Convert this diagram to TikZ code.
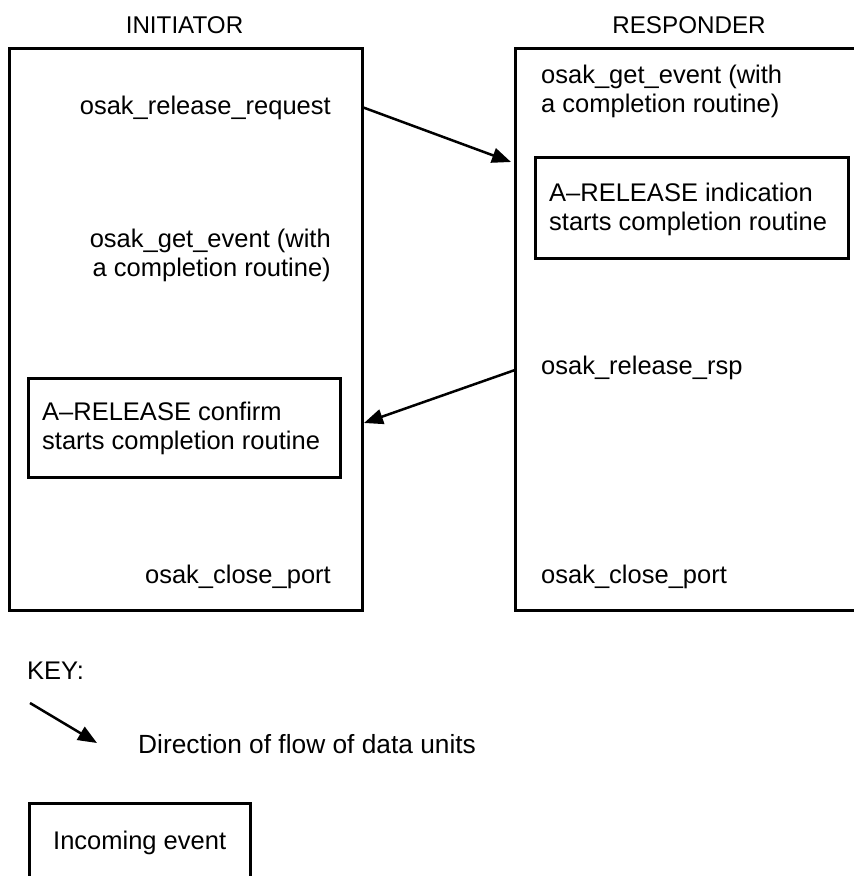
\documentclass[tikz,border=0pt]{standalone}
\usepackage{fontspec}
\setmainfont{Liberation Sans}
\usetikzlibrary{arrows.meta}
\tikzset{
  lbl/.style={inner sep=0pt, font=\fontsize{25.5}{29}\selectfont},
  head/.style={inner sep=0pt, font=\fontsize{24.2}{29}\selectfont},
  side/.style={draw=black, line width=3pt, inner sep=0pt},
  evbox/.style={draw=black, line width=3pt, inner sep=0pt},
  flow/.style={line width=2.5pt, -{Triangle[length=19pt,width=15pt]}},
}
\begin{document}
\begin{tikzpicture}[x=1pt,y=-1pt]
\useasboundingbox (0,0) rectangle (854,876);

% the two participants
\draw[side] (9,48) rectangle (362,610);
\draw[side] (515,48) rectangle (870,610);

% column headings
\node[head, anchor=base] (init) at (184.5,33) {INITIATOR};
\node[head, anchor=base] (resp) at (689,33) {RESPONDER};

% initiator calls (multi-line nodes are placed by the baseline of their last line)
\node[lbl, anchor=base east] (relreq) at (331,114) {osak\_release\_request};
\node[lbl, anchor=base east, align=right] (lget) at (331,276) {osak\_get\_event (with\\a completion routine)};
\node[lbl, anchor=base east] (lclose) at (331,583) {osak\_close\_port};

% responder calls
\node[lbl, anchor=base west, align=left] (rget) at (541,112) {osak\_get\_event (with\\a completion routine)};
\node[lbl, anchor=base west] (relrsp) at (541,374) {osak\_release\_rsp};
\node[lbl, anchor=base west] (rclose) at (541,583) {osak\_close\_port};

% incoming events
\draw[evbox] (535,157) rectangle (848,258);
\node[lbl, anchor=base west, align=left] (ind) at (549,230) {A--RELEASE indication\\starts completion routine};
\draw[evbox] (28,378) rectangle (340,477);
\node[lbl, anchor=base west, align=left] (cnf) at (42,449) {A--RELEASE confirm\\starts completion routine};

% data flow between the two sides
\coordinate (a1s) at (362,107);
\coordinate (a1e) at (511,162);
\coordinate (a2s) at (515,370);
\coordinate (a2e) at (364,423);
\draw[flow] (a1s) -- (a1e);
\draw[flow] (a2s) -- (a2e);

% key
\node[lbl, anchor=base west] (key) at (27,679) {KEY:};
\coordinate (k1) at (30,703);
\coordinate (k2) at (97,743);
\draw[flow] (k1) -- (k2);
\node[lbl, anchor=base west, font=\fontsize{26.3}{29}\selectfont] (kflow) at (138,753) {Direction of flow of data units};
\draw[evbox] (29,900) |- (250,803) -- (250,900);
\node[lbl, anchor=base west] (kev) at (53,849) {Incoming event};
\end{tikzpicture}
\end{document}
